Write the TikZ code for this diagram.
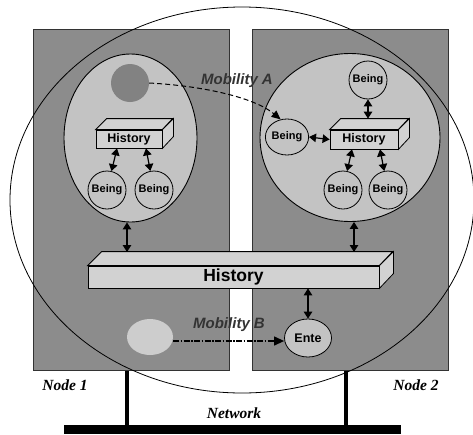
\documentclass[tikz,border=0pt]{standalone}
\usepackage{fontspec}
\setmainfont{Liberation Serif}
\setsansfont{Liberation Sans}
\usetikzlibrary{arrows.meta,positioning,calc,shapes.geometric}
\definecolor{boxgray}{HTML}{8C8C8C}
\definecolor{innergray}{HTML}{C3C3C3}
\definecolor{facegray}{HTML}{D2D2D2}
\definecolor{darkdot}{HTML}{828282}
\definecolor{lightdot}{HTML}{CDCDCD}
\definecolor{labelgray}{HTML}{333333}
\tikzset{
  hostbox/.style={draw=black!80, line width=0.6pt, fill=boxgray},
  innerell/.style={draw=black, line width=0.9pt, fill=innergray, ellipse},
  being/.style={draw=black, line width=0.8pt, fill=innergray, circle, inner sep=0pt, minimum size=38pt,
                font=\sffamily\bfseries\fontsize{11}{12}\selectfont},
  histface/.style={draw=black, line width=0.8pt, fill=facegray, inner sep=0pt},
  darr/.style={line width=1.2pt, {Triangle[length=7pt,width=8.5pt]}-{Triangle[length=7pt,width=8.5pt]}},
  mobl/.style={font=\sffamily\bfseries\itshape\fontsize{15}{16}\selectfont, text=labelgray},
  nodel/.style={font=\bfseries\itshape\fontsize{15.5}{16}\selectfont},
}
\begin{document}
\begin{tikzpicture}[x=1pt,y=-1pt]
\useasboundingbox (0,0) rectangle (473,434);
% host boxes
\node[hostbox, rectangle, minimum width=196pt, minimum height=341pt, anchor=north west, inner sep=0pt] (box1) at (33,29) {};
\node[hostbox, rectangle, minimum width=196pt, minimum height=341pt, anchor=north west, inner sep=0pt] (box2) at (252,29) {};
% big ellipse
\node[draw=black, line width=0.8pt, ellipse, minimum width=464pt, minimum height=386pt, inner sep=0pt] (world) at (242,200) {};
% inner ellipses
\node[innerell, minimum width=133pt, minimum height=168pt, inner sep=0pt] (el) at (130.5,138) {};
\node[innerell, minimum width=180pt, minimum height=168pt, inner sep=0pt] (er) at (350,137.5) {};
% dark dot
\node[circle, fill=darkdot, minimum size=38pt, inner sep=0pt] (dc) at (130,83) {};
% left history box
\node[histface, minimum width=66pt, minimum height=18pt, font=\sffamily\bfseries\fontsize{12.5}{13}\selectfont] (hl) at (129,139) {History};
\draw[histface] (hl.north west) -- ++(11,-11) -- ++(66,0) -- (hl.north east) -- cycle;
\draw[histface] (hl.north east) -- ++(11,-11) -- ++(0,18) -- (hl.south east) -- cycle;
% left beings
\node[being] (b1) at (107,190) {Being};
\node[being] (b2) at (154,190) {Being};
\draw[darr] ([xshift=-12pt]hl.south) -- (b1);
\draw[darr] ([xshift=17pt]hl.south) -- (b2);
% right history box
\node[histface, minimum width=68pt, minimum height=19pt, font=\sffamily\bfseries\fontsize{12.5}{13}\selectfont] (hr) at (364,139.5) {History};
\draw[histface] (hr.north west) -- ++(11,-11) -- ++(68,0) -- (hr.north east) -- cycle;
\draw[histface] (hr.north east) -- ++(11,-11) -- ++(0,19) -- (hr.south east) -- cycle;
\coordinate (hrtop) at ($(hr.north)+(4,-11)$);
% right beings
\node[being] (bt) at (368,80) {Being};
\node[being, ellipse, minimum width=38pt, minimum height=36pt] (bl) at (287,137) {Being};
\node[being] (b3) at (343,190) {Being};
\node[being] (b4) at (388,190) {Being};
\draw[darr] (bt.south) -- (bt.south |- hrtop);
\draw[darr] (bl.east) -- (hr.west);
\draw[darr] ([xshift=-12pt]hr.south) -- (b3);
\draw[darr] ([xshift=16pt]hr.south) -- (b4);
% big history bar
\node[histface, minimum width=291pt, minimum height=22pt, font=\sffamily\bfseries\fontsize{17.5}{18}\selectfont] (bar) at (233.5,277) {History};
\draw[histface] (bar.north west) -- ++(14,-14) -- ++(291,0) -- (bar.north east) -- cycle;
\draw[histface] (bar.north east) -- ++(14,-14) -- ++(0,22) -- (bar.south east) -- cycle;
\coordinate (bartopL) at (127,252);
\coordinate (bartopR) at (354,252);
\draw[darr] ([xshift=-3.5pt]el.south) -- (bartopL);
\draw[darr] ([xshift=4pt]er.south) -- (bartopR);
% Ente and light ellipse
\node[draw=black, line width=0.8pt, fill=innergray, ellipse, minimum width=47pt, minimum height=38pt, inner sep=0pt,
      font=\sffamily\bfseries\fontsize{12.5}{13}\selectfont] (ente) at (308,338) {Ente};
\node[ellipse, fill=lightdot, minimum width=46pt, minimum height=36pt, inner sep=0pt] (lb) at (150,337) {};
\draw[darr] (bar.south -| ente) -- (ente.north);
% mobility arrows
\draw[line width=1pt, dash pattern=on 5pt off 3pt, -{Triangle[length=9pt,width=8pt]}]
  (dc.east) .. controls (205,86) and (255,98) .. (bl.110);
\node[mobl] (mA) at (237,81) {Mobility A};
\draw[line width=1.2pt, dash pattern=on 6pt off 1.5pt on 1.5pt off 1.5pt, -{Triangle[length=10pt,width=9pt]}]
  (lb.east |- 0,341) -- (ente.west |- 0,341);
\node[mobl] (mB) at (229,325) {Mobility B};
% network
\node[fill=black, minimum width=337pt, minimum height=9pt, inner sep=0pt, anchor=north west] (net) at (64,425) {};
\draw[line width=4pt] (box1.south -| 127,0) -- (net.north -| 127,0);
\draw[line width=4pt] (box2.south -| 346,0) -- (net.north -| 346,0);
\node[nodel] (n1) at (65,385) {Node 1};
\node[nodel] (n2) at (416,385) {Node 2};
\node[nodel] (nw) at (234,413) {Network};
\end{tikzpicture}
\end{document}
